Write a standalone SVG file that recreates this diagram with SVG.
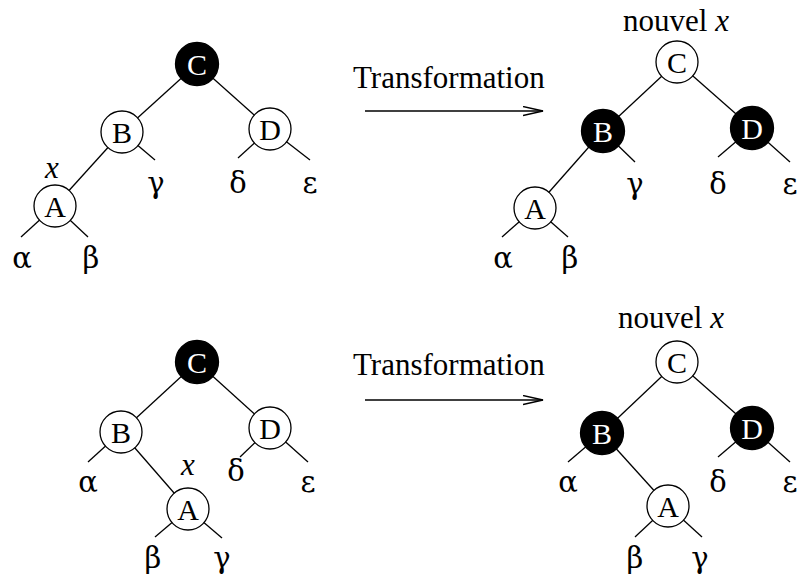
<svg xmlns="http://www.w3.org/2000/svg" width="798" height="576" viewBox="0 0 798 576">
<style>
text{font-family:"Liberation Serif","Times New Roman",serif;font-size:31px;fill:#000}
.lbl{text-anchor:middle}
.gr{text-anchor:middle;font-family:"DejaVu Serif","Liberation Serif",serif;font-size:29px}
.it{font-style:italic}
.nl{text-anchor:middle;font-size:30px}
.wn circle{fill:#fff;stroke:#000;stroke-width:1.3}
.bn circle{fill:#000;stroke:#000;stroke-width:1.3}
.bn text{fill:#fff}
.edges line{stroke:#000;stroke-width:1.3}
.arr line{stroke:#000;stroke-width:1.4}
</style>
<defs>
<marker id="oa" markerWidth="22" markerHeight="12" refX="20" refY="5" orient="auto" markerUnits="userSpaceOnUse">
<path d="M0,0.5 L20,5 L0,9.5" fill="none" stroke="#000" stroke-width="1.4"/>
</marker>
</defs>

<!-- connectors -->
<g id="connectors" class="edges">
<!-- top left -->
<line x1="197" y1="64" x2="122" y2="132"/>
<line x1="197" y1="64" x2="270" y2="129"/>
<line x1="122" y1="132" x2="55" y2="206"/>
<line x1="122" y1="132" x2="155" y2="160"/>
<line x1="270" y1="129" x2="238" y2="158"/>
<line x1="270" y1="129" x2="310" y2="160"/>
<line x1="55" y1="206" x2="21" y2="237"/>
<line x1="55" y1="206" x2="88" y2="237"/>
<!-- top right -->
<line x1="677" y1="62" x2="603" y2="131"/>
<line x1="677" y1="62" x2="752" y2="128"/>
<line x1="603" y1="131" x2="535" y2="208"/>
<line x1="603" y1="131" x2="635" y2="162"/>
<line x1="752" y1="128" x2="718" y2="157"/>
<line x1="752" y1="128" x2="790" y2="162"/>
<line x1="535" y1="208" x2="502" y2="237"/>
<line x1="535" y1="208" x2="568" y2="237"/>
<!-- bottom left -->
<line x1="197" y1="362" x2="121" y2="432"/>
<line x1="197" y1="362" x2="270" y2="428"/>
<line x1="121" y1="432" x2="88" y2="462"/>
<line x1="121" y1="432" x2="188" y2="509"/>
<line x1="270" y1="428" x2="240" y2="457"/>
<line x1="270" y1="428" x2="308" y2="462"/>
<line x1="188" y1="509" x2="155" y2="537"/>
<line x1="188" y1="509" x2="222" y2="538"/>
<!-- bottom right -->
<line x1="677" y1="362" x2="602" y2="433"/>
<line x1="677" y1="362" x2="752" y2="428"/>
<line x1="602" y1="433" x2="568" y2="462"/>
<line x1="602" y1="433" x2="668" y2="506"/>
<line x1="752" y1="428" x2="718" y2="457"/>
<line x1="752" y1="428" x2="790" y2="462"/>
<line x1="668" y1="506" x2="635" y2="537"/>
<line x1="668" y1="506" x2="702" y2="537"/>
</g>

<g id="arrows" class="arr">
<line x1="365" y1="111" x2="543" y2="111" marker-end="url(#oa)"/>
<line x1="365" y1="400" x2="543" y2="400" marker-end="url(#oa)"/>
</g>

<!-- top left nodes -->
<g id="tl-C" class="bn"><circle cx="197" cy="64" r="21.5"/><text class="nl" x="197" y="74.5">C</text></g>
<g id="tl-B" class="wn"><circle cx="122" cy="132" r="21"/><text class="nl" x="122" y="142.5">B</text></g>
<g id="tl-D" class="wn"><circle cx="270" cy="129" r="21"/><text class="nl" x="270" y="139.5">D</text></g>
<g id="tl-A" class="wn"><circle cx="55" cy="206" r="21"/><text class="nl" x="55" y="216.5">A</text></g>

<!-- top right nodes -->
<g id="tr-C" class="wn"><circle cx="677" cy="62" r="21"/><text class="nl" x="677" y="72.5">C</text></g>
<g id="tr-B" class="bn"><circle cx="603" cy="131" r="21.5"/><text class="nl" x="603" y="141.5">B</text></g>
<g id="tr-D" class="bn"><circle cx="752" cy="128" r="21.5"/><text class="nl" x="752" y="138.5">D</text></g>
<g id="tr-A" class="wn"><circle cx="535" cy="208" r="21"/><text class="nl" x="535" y="218.5">A</text></g>

<!-- bottom left nodes -->
<g id="bl-C" class="bn"><circle cx="197" cy="362" r="21.5"/><text class="nl" x="197" y="372.5">C</text></g>
<g id="bl-B" class="wn"><circle cx="121" cy="432" r="21"/><text class="nl" x="121" y="442.5">B</text></g>
<g id="bl-D" class="wn"><circle cx="270" cy="428" r="21"/><text class="nl" x="270" y="438.5">D</text></g>
<g id="bl-A" class="wn"><circle cx="188" cy="509" r="21"/><text class="nl" x="188" y="519.5">A</text></g>

<!-- bottom right nodes -->
<g id="br-C" class="wn"><circle cx="677" cy="362" r="21"/><text class="nl" x="677" y="372.5">C</text></g>
<g id="br-B" class="bn"><circle cx="602" cy="433" r="21.5"/><text class="nl" x="602" y="443.5">B</text></g>
<g id="br-D" class="bn"><circle cx="752" cy="428" r="21.5"/><text class="nl" x="752" y="438.5">D</text></g>
<g id="br-A" class="wn"><circle cx="668" cy="506" r="21"/><text class="nl" x="668" y="516.5">A</text></g>

<!-- labels -->
<g id="labels">
<text class="lbl it" x="52" y="178">x</text>
<text class="gr" x="156" y="193">γ</text>
<text class="gr" x="238" y="193">δ</text>
<text class="gr" x="310" y="193">ε</text>
<text class="gr" x="22" y="268">α</text>
<text class="gr" x="91" y="268">β</text>

<text x="353" y="88">Transformation</text>
<text x="623" y="31">nouvel <tspan class="it">x</tspan></text>
<text class="gr" x="635" y="194">γ</text>
<text class="gr" x="718" y="194">δ</text>
<text class="gr" x="790" y="194">ε</text>
<text class="gr" x="503" y="268">α</text>
<text class="gr" x="570" y="268">β</text>

<text class="lbl it" x="188" y="475">x</text>
<text class="gr" x="88" y="492">α</text>
<text class="gr" x="236" y="481">δ</text>
<text class="gr" x="308" y="492">ε</text>
<text class="gr" x="153" y="568">β</text>
<text class="gr" x="222" y="568">γ</text>

<text x="353" y="375">Transformation</text>
<text x="618" y="328">nouvel <tspan class="it">x</tspan></text>
<text class="gr" x="568" y="492">α</text>
<text class="gr" x="718" y="492">δ</text>
<text class="gr" x="790" y="492">ε</text>
<text class="gr" x="635" y="568">β</text>
<text class="gr" x="700" y="568">γ</text>
</g>
</svg>
